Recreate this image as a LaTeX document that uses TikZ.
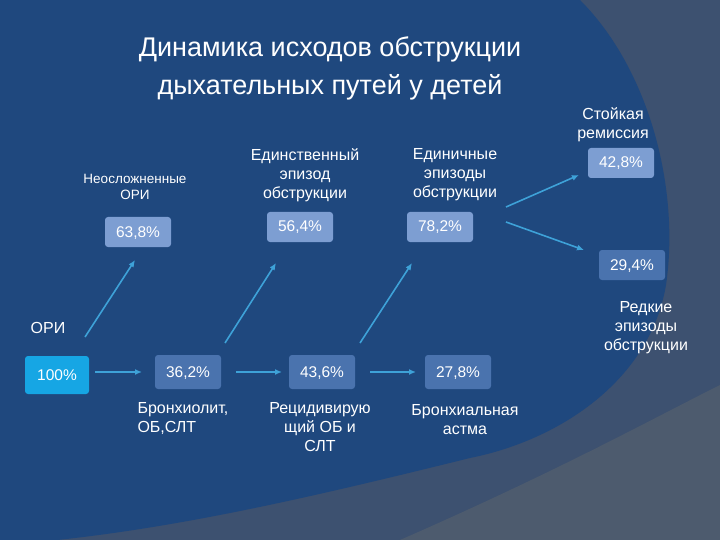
\documentclass[tikz,border=0pt]{standalone}
\usepackage{fontspec}
\setmainfont{Liberation Sans}
\usetikzlibrary{arrows.meta}
\begin{document}
\begin{tikzpicture}[x=1pt,y=-1pt,
 box/.style={rounded corners=3pt,fill=boxc,text=white,minimum width=66pt,minimum height=34pt,inner sep=0pt,text height=11pt,text depth=1pt,font=\fontsize{15.5}{16}\selectfont},
 topbox/.style={box,fill=boxl,minimum height=30pt},
 lbl/.style={text=white,align=center,font=\fontsize{16}{19}\selectfont},
 arr/.style={draw=arrc,line width=1.6pt,-{Latex[length=7pt,width=6pt]}}]
\definecolor{outer}{HTML}{3D5170}
\definecolor{inner}{HTML}{1F487E}
\definecolor{lower}{HTML}{4D5B6E}
\definecolor{boxc}{HTML}{4A73AE}
\definecolor{boxl}{HTML}{7D9ED2}
\definecolor{arrc}{HTML}{3EA2D8}
\definecolor{cyanbox}{HTML}{16A6E4}
\useasboundingbox (0,0) rectangle (720,540);
\fill[outer] (0,0) rectangle (720,540);
\fill[lower] (400,540) .. controls (560,470) and (650,420) .. (720,385) -- (720,540) -- cycle;
\fill[inner] (0,0) -- (580,0) .. controls (650,70) and (680,190) .. (666,285) .. controls (650,380) and (560,440) .. (470,458) .. controls (300,500) and (150,535) .. (0,545) -- cycle;
\node[lbl,font=\fontsize{27}{38}\selectfont] (title) at (330,68) {Динамика исходов обструкции\\дыхательных путей у детей};
\node[box,fill=cyanbox,minimum width=64pt,minimum height=38pt] (a) at (57,375) {100\%};
\node[box] (b) at (188,372) {36,2\%};
\node[box] (c) at (322,372) {43,6\%};
\node[box] (d) at (458,372) {27,8\%};
\node[topbox] (e) at (138,232) {63,8\%};
\node[topbox] (f) at (300,227) {56,4\%};
\node[topbox] (g) at (440,227) {78,2\%};
\node[topbox] (h) at (621,163) {42,8\%};
\node[box,minimum height=30pt] (i) at (632,265) {29,4\%};
\node[lbl,font=\fontsize{13.5}{16}\selectfont] (le) at (135,187) {Неосложненные\\ОРИ};
\node[lbl] (lf) at (305,175) {Единственный\\эпизод\\обструкции};
\node[lbl] (lg) at (455,175) {Единичные\\эпизоды\\обструкции};
\node[lbl] (lh) at (613,125) {Стойкая\\ремиссия};
\node[lbl] (li) at (646,328) {Редкие\\эпизоды\\обструкции};
\node[lbl] (la) at (48,328) {ОРИ};
\node[lbl,align=left,anchor=west] (lb) at (134,419) {Бронхиолит,\\ОБ,СЛТ};
\node[lbl] (lc) at (320,427) {Рецидивирую\\щий ОБ и\\СЛТ};
\node[lbl] (ld) at (465,420) {Бронхиальная\\астма};
\coordinate (s0) at (95,372); \coordinate (t0) at (142,372);
\coordinate (s6) at (236,372); \coordinate (t6) at (282,372);
\coordinate (s7) at (370,372); \coordinate (t7) at (416,372);
\coordinate (s1) at (85,337); \coordinate (t1) at (135,260);
\coordinate (s2) at (225,343); \coordinate (t2) at (276,263);
\coordinate (s3) at (360,343); \coordinate (t3) at (412,263);
\coordinate (s4) at (506,207); \coordinate (t4) at (579,175);
\coordinate (s5) at (506,222); \coordinate (t5) at (584,250);
\draw[arr] (s0) -- (t0);
\draw[arr] (s6) -- (t6);
\draw[arr] (s7) -- (t7);
\draw[arr] (s1) -- (t1);
\draw[arr] (s2) -- (t2);
\draw[arr] (s3) -- (t3);
\draw[arr] (s4) -- (t4);
\draw[arr] (s5) -- (t5);
\end{tikzpicture}
\end{document}
